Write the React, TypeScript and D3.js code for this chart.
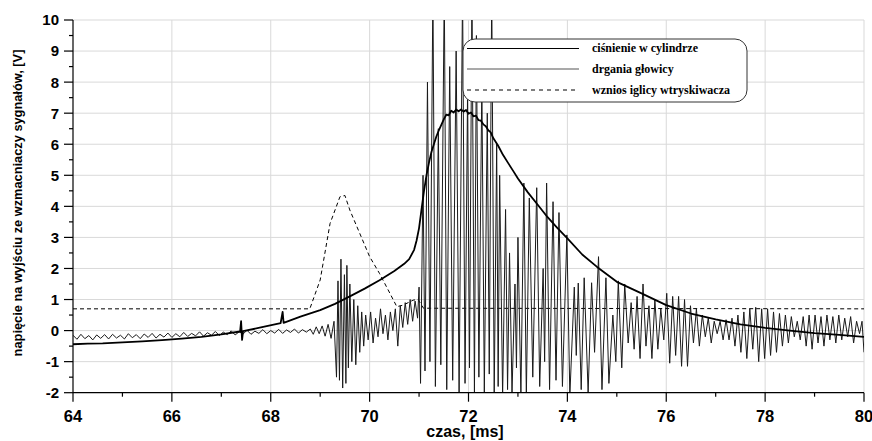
import React from 'react';
import * as d3 from 'd3';

const WIDTH = 872;
const HEIGHT = 441;
const PLOT = { left: 73, right: 864, top: 20, bottom: 392.7 };

const xTicks = [64, 66, 68, 70, 72, 74, 76, 78, 80];
const xMinorTicks = [65, 67, 69, 71, 73, 75, 77, 79];
const yTicks = [-2, -1, 0, 1, 2, 3, 4, 5, 6, 7, 8, 9, 10];
const yMinorTicks = [-1.5, -0.5, 0.5, 1.5, 2.5, 3.5, 4.5, 5.5, 6.5, 7.5, 8.5, 9.5];

const seriesNames = ['ciśnienie w cylindrze', 'drgania głowicy', 'wznios iglicy wtryskiwacza'];

// ciśnienie w cylindrze [ms, V]
const pressure: [number, number][] = [
  [64.0, -0.44], [64.3, -0.42], [64.6, -0.41], [65.0, -0.38], [65.4, -0.35], [65.8, -0.31],
  [66.2, -0.26], [66.6, -0.2], [67.0, -0.12], [67.38, -0.03], [67.4, 0.3], [67.42, -0.3],
  [67.44, -0.02], [67.8, 0.1], [68.2, 0.24], [68.24, 0.6], [68.26, 0.25], [68.6, 0.45],
  [69.0, 0.66], [69.3, 0.86], [69.6, 1.1], [69.9, 1.35], [70.2, 1.62], [70.5, 1.92],
  [70.7, 2.15], [70.8, 2.3], [70.9, 2.6], [70.95, 2.9], [71.0, 3.3], [71.05, 3.9],
  [71.1, 4.5], [71.15, 5.0], [71.2, 5.4], [71.25, 5.75], [71.3, 6.0], [71.35, 6.25],
  [71.4, 6.45], [71.45, 6.62], [71.5, 6.8], [71.55, 6.95], [71.6, 6.93], [71.65, 7.08],
  [71.7, 7.02], [71.75, 7.12], [71.8, 7.06], [71.85, 7.12], [71.9, 7.05], [71.95, 7.1],
  [72.0, 6.98], [72.05, 7.02], [72.1, 6.9], [72.15, 6.92], [72.2, 6.78], [72.25, 6.76],
  [72.3, 6.64], [72.35, 6.58], [72.4, 6.45], [72.45, 6.38], [72.5, 6.2], [72.6, 5.95],
  [72.7, 5.65], [72.8, 5.4], [72.9, 5.15], [73.0, 4.9], [73.2, 4.45], [73.4, 4.05],
  [73.6, 3.65], [73.8, 3.3], [74.0, 2.97], [74.3, 2.45], [74.6, 2.05], [75.0, 1.57],
  [75.5, 1.2], [76.0, 0.82], [76.5, 0.55], [77.0, 0.36], [77.5, 0.2], [78.0, 0.09],
  [78.5, 0.0], [79.0, -0.08], [79.5, -0.14], [80.0, -0.2],
];

// wznios iglicy wtryskiwacza
const needleLift: [number, number][] = [
  [64.0, 0.7], [68.79, 0.7], [69.0, 1.63], [69.2, 3.45], [69.4, 4.31], [69.5, 4.35],
  [69.6, 3.88], [69.8, 3.13], [70.0, 2.38], [70.2, 1.84], [70.41, 1.2], [70.55, 0.77],
  [70.68, 0.82], [70.88, 0.98], [70.98, 1.0], [71.09, 0.72], [80.0, 0.7],
];

// drgania głowicy: slow part sampled every 0.08 ms from 64 ms
const vibBaseStart = 64;
const vibBaseStep = 0.08;
const vibBase = [
  -0.15, -0.28, -0.12, -0.26, -0.16, -0.3, -0.14, -0.25, -0.13, -0.27,
  -0.12, -0.24, -0.15, -0.27, -0.1, -0.23, -0.13, -0.26, -0.11, -0.22,
  -0.09, -0.24, -0.12, -0.21, -0.08, -0.22, -0.1, -0.2, -0.06, -0.19,
  -0.09, -0.17, -0.04, -0.18, -0.07, -0.15, -0.03, -0.16, -0.05, -0.13,
  -0.01, -0.14, -0.04, -0.11, 0.01, -0.12, -0.02, -0.09, 0.03, -0.1,
  0.0, -0.08, 0.04, -0.09, 0.02, -0.06, 0.05, -0.08, 0.03, -0.05,
];

// drgania głowicy: remaining part, read as extremes [ms, V]
const vibration: [number, number][] = [
  [68.8, 0.05], [68.86, -0.12], [68.92, 0.12], [68.98, -0.1], [69.04, 0.15], [69.1, -0.18],
  [69.16, 0.2], [69.22, -0.25], [69.28, 0.3], [69.33, -1.5], [69.36, 1.6], [69.39, -1.6],
  [69.42, 2.3], [69.455, -1.85], [69.49, 1.8], [69.52, -1.7], [69.54, 2.1], [69.57, -1.2],
  [69.6, 1.5], [69.64, -1.0], [69.68, 1.0], [69.72, -1.1], [69.76, 0.8], [69.8, -0.7],
  [69.84, 0.6], [69.88, -0.5], [69.92, 0.5], [69.97, -0.3], [70.02, 0.6], [70.07, -0.4],
  [70.12, 0.4], [70.17, -0.2], [70.22, 0.7], [70.27, -0.1], [70.32, 0.5], [70.37, -0.3],
  [70.42, 0.6], [70.47, 0.0], [70.52, 0.7], [70.57, -0.5], [70.62, 0.8], [70.67, 0.1],
  [70.72, 0.9], [70.77, 0.2], [70.82, 1.0], [70.87, 0.3], [70.92, 0.95], [70.97, 0.4],
  [71.0, 1.4], [71.03, -1.7], [71.08, 5.0], [71.12, -1.3], [71.17, 8.0], [71.22, -1.0],
  [71.28, 11], [71.33, -1.8], [71.39, 6.5], [71.44, -1.1], [71.51, 11], [71.56, -1.9],
  [71.62, 8.5], [71.68, -1.6], [71.75, 9.0], [71.81, -2.0], [71.88, 11], [71.93, -1.7],
  [71.98, 7.5], [72.02, -1.2], [72.07, 11], [72.12, -2.1], [72.16, 9.5], [72.21, -1.5],
  [72.27, 8.0], [72.32, -2.0], [72.38, 7.0], [72.42, -1.4], [72.47, 11], [72.52, -2.1],
  [72.57, 6.0], [72.6, -1.8], [72.63, 5.0], [72.69, -2.1], [72.75, 3.9], [72.79, -1.9],
  [72.83, 2.5], [72.88, -2.0], [72.94, 1.5], [72.97, -1.2], [73.0, 3.0], [73.06, -2.1],
  [73.12, 4.75], [73.17, -2.1], [73.23, 4.27], [73.3, -1.5], [73.38, 4.6], [73.44, -1.8],
  [73.51, 2.0], [73.54, -1.0], [73.58, 4.75], [73.64, -1.9], [73.71, 4.15], [73.77, -1.6],
  [73.83, 3.8], [73.9, -1.8], [73.99, 3.08], [74.05, -2.1], [74.14, 1.4], [74.18, -0.8],
  [74.22, 1.53], [74.28, -1.9], [74.34, 1.7], [74.42, -2.0], [74.49, 1.54], [74.55, -0.7],
  [74.63, 2.38], [74.7, -1.9], [74.78, 1.7], [74.84, -1.7], [74.92, 0.5], [74.98, -1.0],
  [75.03, 1.6], [75.1, -1.2], [75.16, 1.5], [75.23, -0.4], [75.29, 0.9], [75.35, -0.6],
  [75.41, 1.1], [75.47, -0.9], [75.53, 1.5], [75.59, -0.5], [75.65, 0.8], [75.71, -0.9],
  [75.77, 1.0], [75.83, -0.6], [75.89, 0.7], [75.95, -0.3], [76.01, 1.2], [76.07, -1.05],
  [76.13, 1.1], [76.19, -0.8], [76.25, 1.1], [76.31, -1.15], [76.37, 1.0], [76.43, -1.15],
  [76.49, 0.8], [76.55, -0.4], [76.61, 0.7], [76.67, -0.5], [76.73, 0.5], [76.79, -0.2],
  [76.85, 0.4], [76.91, -0.4], [76.97, 0.3], [77.03, -0.1], [77.09, 0.3], [77.15, -0.3],
  [77.21, 0.35], [77.27, -0.3], [77.33, 0.4], [77.39, -0.5], [77.45, 0.5], [77.51, -0.7],
  [77.57, 0.6], [77.63, -0.9], [77.69, 0.7], [77.75, -0.6], [77.81, 0.75], [77.87, -1.0],
  [77.93, 0.7], [77.99, -0.9], [78.05, 0.7], [78.11, -0.8], [78.17, 0.6], [78.23, -0.7],
  [78.29, 0.55], [78.35, -0.5], [78.41, 0.5], [78.47, -0.4], [78.53, 0.45], [78.59, -0.2],
  [78.65, 0.3], [78.71, -0.3], [78.77, 0.45], [78.83, -0.5], [78.89, 0.5], [78.95, -0.6],
  [79.01, 0.5], [79.07, -0.4], [79.13, 0.45], [79.19, -0.5], [79.25, 0.5], [79.31, -0.3],
  [79.37, 0.45], [79.43, -0.4], [79.49, 0.5], [79.55, -0.3], [79.61, 0.4], [79.67, -0.2],
  [79.73, 0.45], [79.79, -0.4], [79.85, 0.3], [79.91, -0.1], [79.96, 0.3], [80.0, -0.7],
];

const App = () => {
  const x = d3.scaleLinear().domain([64, 80]).range([PLOT.left, PLOT.right]);
  const y = d3.scaleLinear().domain([-2, 10]).range([PLOT.bottom, PLOT.top]);

  const line = d3.line<[number, number]>()
    .x(d => x(d[0]))
    .y(d => y(d[1]));

  const vibAll: [number, number][] = vibBase
    .map((v, i) => [vibBaseStart + i * vibBaseStep, v] as [number, number])
    .concat(vibration);

  const legendX = 463;
  const legendY = 39;
  const rows = [48.5, 69, 90];
  const legendStyles = [
    { stroke: '#000', dash: undefined, width: 1.2 },
    { stroke: '#555', dash: undefined, width: 1.2 },
    { stroke: '#000', dash: '4,4', width: 1 },
  ];

  return (
    <svg width={WIDTH} height={HEIGHT} style={{ position: 'absolute', left: 0, top: 0, background: '#fff' }}>
      <defs>
        <clipPath id="plot-clip">
          <rect x={PLOT.left} y={PLOT.top} width={PLOT.right - PLOT.left} height={PLOT.bottom - PLOT.top} />
        </clipPath>
      </defs>

      {/* grid */}
      <g stroke="#d9d9d9" strokeWidth={1}>
        {yTicks.filter(t => t > -2).map(t => (
          <line key={'gy' + t} x1={PLOT.left} x2={PLOT.right} y1={y(t)} y2={y(t)} />
        ))}
        {xTicks.filter(t => t > 64).map(t => (
          <line key={'gx' + t} x1={x(t)} x2={x(t)} y1={PLOT.top} y2={PLOT.bottom} />
        ))}
      </g>

      {/* series */}
      <g clipPath="url(#plot-clip)" fill="none">
        <path d={line(needleLift) ?? ''} stroke="#000" strokeWidth={1} strokeDasharray="4,3" />
        <path d={line(vibAll) ?? ''} stroke="#1a1a1a" strokeWidth={1} strokeLinejoin="round" />
        <path d={line(pressure) ?? ''} stroke="#000" strokeWidth={1.8} strokeLinejoin="round" />
      </g>

      {/* axes */}
      <g stroke="#000" strokeWidth={1.2}>
        <line x1={PLOT.left} x2={PLOT.left} y1={PLOT.top} y2={PLOT.bottom} />
        <line x1={PLOT.left} x2={PLOT.right} y1={PLOT.bottom} y2={PLOT.bottom} />
        {yTicks.map(t => (
          <line key={'ty' + t} x1={PLOT.left - 9} x2={PLOT.left} y1={y(t)} y2={y(t)} />
        ))}
        {yMinorTicks.map(t => (
          <line key={'tym' + t} x1={PLOT.left - 4} x2={PLOT.left} y1={y(t)} y2={y(t)} />
        ))}
        {xTicks.map(t => (
          <line key={'tx' + t} x1={x(t)} x2={x(t)} y1={PLOT.bottom} y2={PLOT.bottom + 9} />
        ))}
        {xMinorTicks.map(t => (
          <line key={'txm' + t} x1={x(t)} x2={x(t)} y1={PLOT.bottom} y2={PLOT.bottom + 4} />
        ))}
      </g>

      <g fontFamily="'Liberation Sans', Arial, sans-serif" fontWeight="bold" fill="#000">
        {yTicks.map(t => (
          <text key={'ly' + t} x={PLOT.left - 14} y={y(t)} dy="0.36em" textAnchor="end" fontSize={15}>
            {t}
          </text>
        ))}
        {xTicks.map(t => (
          <text key={'lx' + t} x={x(t)} y={PLOT.bottom + 29} textAnchor="middle" fontSize={16.5}>
            {t}
          </text>
        ))}
        <text x={465} y={437} textAnchor="middle" fontSize={16}>czas, [ms]</text>
        <text transform="translate(22, 203) rotate(-90)" textAnchor="middle" fontSize={12.8}>
          napięcie na wyjściu ze wzmacniaczy sygnałów, [V]
        </text>
      </g>

      {/* legend */}
      <g>
        <rect x={legendX} y={legendY} width={284} height={63} rx={12} ry={12} fill="#fff" stroke="#333" strokeWidth={1} />
        {seriesNames.map((name, i) => (
          <g key={name}>
            <line
              x1={legendX + 4}
              x2={legendX + 116}
              y1={rows[i]}
              y2={rows[i]}
              stroke={legendStyles[i].stroke}
              strokeWidth={legendStyles[i].width}
              strokeDasharray={legendStyles[i].dash}
            />
            <text
              x={legendX + 129}
              y={rows[i]}
              dy="0.32em"
              fontFamily="'Liberation Serif', 'Times New Roman', serif"
              fontWeight="bold"
              fontSize={12}
            >
              {name}
            </text>
          </g>
        ))}
      </g>
    </svg>
  );
};

export default App;
